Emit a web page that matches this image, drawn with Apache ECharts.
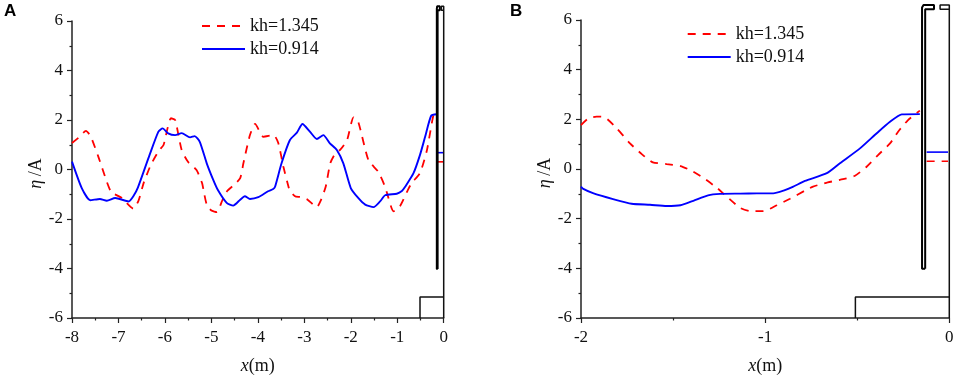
<!DOCTYPE html>
<html><head><meta charset="utf-8">
<style>html,body{margin:0;padding:0;background:#fff}#c{width:957px;height:376px}</style>
<script src="https://cdn.jsdelivr.net/npm/echarts@6/dist/echarts.min.js"></script>
</head><body><div id="c"></div>
<script>
const legendNames = ['kh=1.345', 'kh=0.914'];
const panelLabels = ['A', 'B'];
const redA = [[-8,1.07],[-7.85,1.3],[-7.7,1.56],[-7.6,1.35],[-7.43,0.5],[-7.25,-0.5],[-7.15,-0.95],[-7.08,-1.0],[-6.93,-1.15],[-6.68,-1.58],[-6.57,-1.27],[-6.49,-0.75],[-6.45,-0.5],[-6.3,0.2],[-6.12,0.79],[-6.03,0.99],[-5.87,2.07],[-5.78,2.0],[-5.64,0.79],[-5.5,0.3],[-5.32,-0.02],[-5.2,-0.55],[-5.17,-0.83],[-5.1,-1.42],[-5.0,-1.66],[-4.88,-1.72],[-4.77,-1.27],[-4.66,-0.87],[-4.5,-0.6],[-4.38,-0.35],[-4.31,0.26],[-4.17,1.39],[-4.06,1.84],[-3.88,1.32],[-3.66,1.39],[-3.56,1.07],[-3.45,0.11],[-3.34,-0.7],[-3.31,-0.87],[-3.18,-1.1],[-3.07,-1.11],[-2.93,-1.22],[-2.73,-1.52],[-2.65,-1.27],[-2.54,-0.7],[-2.44,0.26],[-2.33,0.66],[-2.23,0.79],[-2.08,1.19],[-1.94,2.11],[-1.84,1.93],[-1.62,0.38],[-1.41,-0.09],[-1.26,-0.7],[-1.22,-0.95],[-1.08,-1.69],[-0.94,-1.48],[-0.77,-0.82],[-0.69,-0.55],[-0.51,-0.14],[-0.36,0.79],[-0.22,2.2],[-0.15,2.28]];
const blueA = [[-8,0.32],[-7.79,-0.75],[-7.61,-1.24],[-7.4,-1.19],[-7.25,-1.26],[-7.07,-1.15],[-6.78,-1.29],[-6.68,-1.08],[-6.58,-0.72],[-6.33,0.59],[-6.14,1.53],[-6.05,1.66],[-5.93,1.46],[-5.78,1.39],[-5.64,1.47],[-5.46,1.3],[-5.36,1.35],[-5.25,1.12],[-5.1,0.25],[-4.96,-0.42],[-4.86,-0.83],[-4.67,-1.35],[-4.53,-1.46],[-4.38,-1.22],[-4.28,-1.08],[-4.17,-1.19],[-3.99,-1.12],[-3.78,-0.88],[-3.67,-0.79],[-3.63,-0.7],[-3.49,0.25],[-3.31,1.19],[-3.16,1.49],[-3.04,1.84],[-2.88,1.53],[-2.73,1.23],[-2.59,1.39],[-2.45,1.06],[-2.3,0.79],[-2.16,0.25],[-2,-0.75],[-1.84,-1.15],[-1.69,-1.42],[-1.51,-1.52],[-1.37,-1.29],[-1.26,-1.04],[-1.01,-0.98],[-0.9,-0.87],[-0.83,-0.7],[-0.65,-0.15],[-0.51,0.59],[-0.4,1.32],[-0.27,2.17],[-0.15,2.23]];
const redB = [[-2,1.77],[-1.96,2.04],[-1.915,2.11],[-1.87,2.08],[-1.806,1.64],[-1.734,1.03],[-1.67,0.6],[-1.61,0.27],[-1.535,0.2],[-1.46,0.12],[-1.4,-0.07],[-1.335,-0.36],[-1.26,-0.77],[-1.21,-1.1],[-1.135,-1.57],[-1.08,-1.7],[-1.01,-1.7],[-0.937,-1.46],[-0.865,-1.2],[-0.784,-0.87],[-0.74,-0.71],[-0.66,-0.54],[-0.577,-0.41],[-0.512,-0.27],[-0.449,0.09],[-0.387,0.56],[-0.322,1.03],[-0.278,1.5],[-0.224,1.97],[-0.16,2.35]];
const blueB = [[-2,-0.71],[-1.99,-0.79],[-1.935,-0.97],[-1.826,-1.21],[-1.725,-1.4],[-1.625,-1.44],[-1.535,-1.49],[-1.46,-1.46],[-1.39,-1.28],[-1.31,-1.06],[-1.245,-1.0],[-1.135,-0.99],[-1.045,-0.98],[-0.956,-0.98],[-0.9,-0.87],[-0.85,-0.72],[-0.784,-0.48],[-0.665,-0.17],[-0.594,0.23],[-0.485,0.83],[-0.394,1.44],[-0.322,1.9],[-0.258,2.2],[-0.16,2.21]];
const redInside = [[-0.123,0.31],[-0.007,0.31]];
const blueInside = [[-0.123,0.68],[-0.007,0.68]];
const wallLeft = [[-0.131,-4.02],[-0.131,6.43],[-0.083,6.43],[-0.083,6.6],[-0.14,6.6],[-0.148,6.5],[-0.148,-4.02],[-0.131,-4.02]];
const wallRight = [[0,-6],[0,6.6],[-0.05,6.6],[-0.05,6.43],[0,6.43]];
const step = [[-0.51,-6],[-0.51,-5.15],[0,-5.15]];

const RED = '#ff0000', BLUE = '#0000ff', INK = '#222222', SERIF = '"Liberation Serif", serif';
const grids = [
  {left:72, right:513.3, top:21, height:297, outerBoundsMode:'none'},
  {left:581, right:7.7, top:20, height:298, outerBoundsMode:'none'}
];
const xRange = [[-8,0],[-2,0]];
const legendPos = [{left:201, top:17},{left:686.7, top:25}];
const letterPos = [4, 510];
const curves = [[redA, blueA],[redB, blueB]];

function xAxis(i){return {gridIndex:i,type:'value',min:xRange[i][0],max:xRange[i][1],interval:1,position:'bottom',
  name:'{i|x}{n|(m)}',nameLocation:'middle',nameGap:39,
  nameTextStyle:{rich:{i:{fontFamily:SERIF,fontStyle:'italic',fontSize:18,color:'#111'},n:{fontFamily:SERIF,fontSize:18,color:'#111'}}},
  axisLine:{onZero:false,lineStyle:{color:INK,width:1.5}},
  axisTick:{show:true,length:5,lineStyle:{color:INK,width:1.2}},
  minorTick:{show:true,splitNumber:2,length:2.5,lineStyle:{color:INK,width:1.2}},
  splitLine:{show:false},
  axisLabel:{margin:11,fontFamily:SERIF,fontSize:17,color:'#111'}};}
function yAxis(i){return {gridIndex:i,type:'value',min:-6,max:6,interval:2,position:'left',
  name:'{i|η} {n|/A}',nameLocation:'middle',nameGap:25,nameRotate:90,
  nameTextStyle:{padding:[0,8,0,0],rich:{i:{fontFamily:SERIF,fontStyle:'italic',fontSize:18,color:'#111'},n:{fontFamily:SERIF,fontSize:18,color:'#111'}}},
  axisLine:{onZero:false,lineStyle:{color:INK,width:1.5}},
  axisTick:{show:true,length:5,lineStyle:{color:INK,width:1.2}},
  minorTick:{show:true,splitNumber:2,length:2.5,lineStyle:{color:INK,width:1.2}},
  splitLine:{show:false},
  axisLabel:{margin:9,fontFamily:SERIF,fontSize:17,color:'#111'}};}
function line(i,data,color,width,dash,name,smooth){return {type:'line',name:name,xAxisIndex:i,yAxisIndex:i,data:data,
  showSymbol:false,symbol:'none',clip:false,silent:true,smooth:smooth||false,
  lineStyle:{color:color,width:width,type:dash?[8,7]:'solid',cap:'butt'},itemStyle:{color:color},
  emphasis:{disabled:true},animation:false};}

const series=[];
[0,1].forEach(i=>{
  series.push(line(i,curves[i][0],RED,1.8,true,legendNames[0],0.2));
  series.push(line(i,curves[i][1],BLUE,1.9,false,legendNames[1],0.2));
  series.push(line(i,redInside,RED,1.6,true,'redInside'));
  series.push(line(i,blueInside,BLUE,1.6,false,'blueInside'));
  series.push(line(i,wallLeft,'#000',2,false,'wallLeft'));
  series.push(line(i,wallRight,'#111',1.5,false,'wallRight'));
  series.push(line(i,step,'#111',1.5,false,'step'));
});

const chart=echarts.init(document.getElementById('c'),null,{renderer:'canvas'});
chart.setOption({
  animation:false,backgroundColor:'#fff',
  title:[0,1].map(i=>({text:panelLabels[i],left:letterPos[i],top:3,padding:0,textStyle:{fontFamily:'"Liberation Sans",sans-serif',fontWeight:'bold',fontSize:17,color:'#000'}})),
  legend:[0,1].map(i=>({data:legendNames,orient:'vertical',left:legendPos[i].left,top:legendPos[i].top,padding:0,
    itemWidth:43,itemHeight:14,itemGap:5,selectedMode:false,itemStyle:{opacity:0},
    textStyle:{fontFamily:SERIF,fontSize:18,color:'#111'}})),
  grid:grids,
  xAxis:[xAxis(0),xAxis(1)],
  yAxis:[yAxis(0),yAxis(1)],
  series:series
});
</script></body></html>
